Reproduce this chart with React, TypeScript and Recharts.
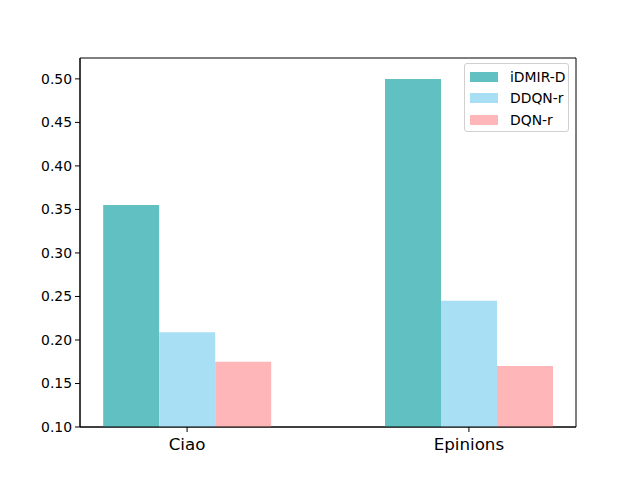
import React from "react";
import { BarChart, Bar, XAxis, YAxis, Legend, ReferenceArea } from "recharts";

const datasets = ["Ciao", "Epinions"];
const idmirD = [0.355, 0.5];
const ddqnR = [0.209, 0.245];
const dqnR = [0.175, 0.17];
const yTicks = [0.1, 0.15, 0.2, 0.25, 0.3, 0.35, 0.4, 0.45, 0.5];

const series = [
  { key: "iDMIR-D", color: "#61c0c1" },
  { key: "DDQN-r", color: "#a9dff4" },
  { key: "DQN-r", color: "#ffb6b9" },
];

const data = datasets.map((name, i) => ({
  x: i,
  name,
  "iDMIR-D": idmirD[i],
  "DDQN-r": ddqnR[i],
  "DQN-r": dqnR[i],
}));

const font = "'DejaVu Sans', sans-serif";
const xDomain: [number, number] = [-0.38, 1.38];
const yDomain: [number, number] = [0.1, 0.524];

const LegendBox = () => (
  <div
    style={{
      boxSizing: "border-box",
      width: 105,
      height: 69,
      border: "1px solid #d0d0d0",
      borderRadius: 3,
      background: "rgba(255,255,255,0.8)",
      padding: "2px 0 0 5px",
      fontFamily: font,
      fontSize: 13.9,
      color: "#000",
    }}
  >
    {series.map((s) => (
      <div key={s.key} style={{ display: "flex", alignItems: "center", height: 21.5 }}>
        <span style={{ display: "inline-block", width: 28, height: 10, background: s.color, marginRight: 12 }} />
        <span>{s.key}</span>
      </div>
    ))}
  </div>
);

export default function App() {
  return (
    <div style={{ position: "absolute", left: 0, top: 0, width: 640, height: 480, background: "#fff" }}>
      <BarChart
        width={640}
        height={480}
        data={data}
        margin={{ top: 58, right: 64, left: 0, bottom: 0 }}
        barGap={0}
        barSize={56}
      >
        <XAxis
          dataKey="x"
          type="number"
          domain={xDomain}
          ticks={[0, 1]}
          allowDataOverflow
          tickFormatter={(v: number) => datasets[v] ?? ""}
          height={53}
          tickSize={5}
          tickMargin={6}
          stroke="#000"
          tick={{ fill: "#000", fontSize: 16.7, fontFamily: font }}
        />
        <YAxis
          type="number"
          domain={yDomain}
          ticks={yTicks}
          allowDataOverflow
          width={80}
          tickSize={5}
          tickMargin={3}
          stroke="#000"
          tickFormatter={(v: number) => v.toFixed(2)}
          tick={{ fill: "#000", fontSize: 13.9, fontFamily: font }}
        />
        <Legend
          content={<LegendBox />}
          layout="vertical"
          align="center"
          verticalAlign="middle"
          wrapperStyle={{ position: "absolute", top: 63, left: 464, right: "auto", width: 105, height: 69 }}
        />
        {series.map((s) => (
          <Bar key={s.key} dataKey={s.key} fill={s.color} isAnimationActive={false} />
        ))}
        <ReferenceArea
          x1={xDomain[0]}
          x2={xDomain[1]}
          y1={yDomain[0]}
          y2={yDomain[1]}
          fill="none"
          stroke="#000"
          strokeWidth={1}
          ifOverflow="visible"
        />
      </BarChart>
    </div>
  );
}
